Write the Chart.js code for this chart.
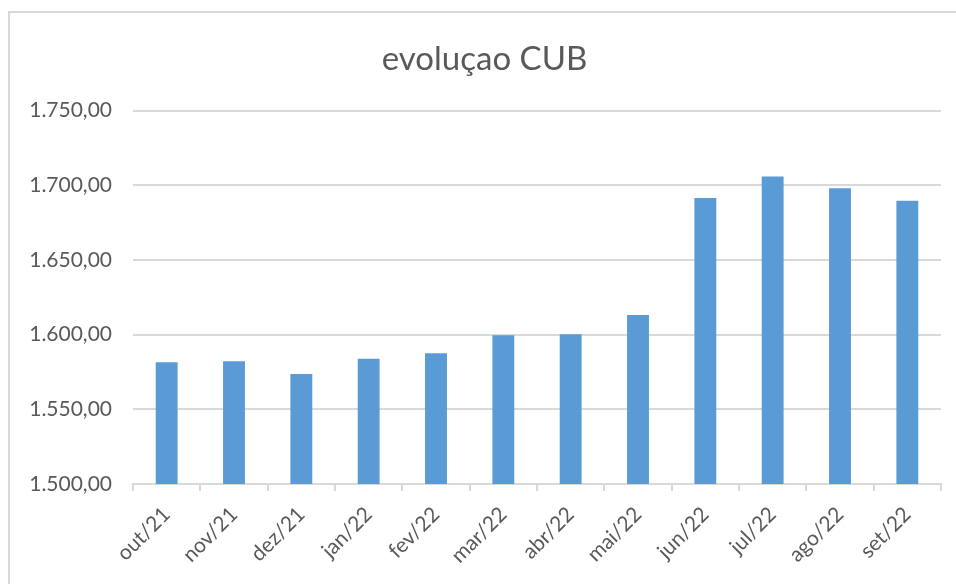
<!DOCTYPE html>
<html>
<head>
<meta charset="utf-8">
<script src="https://cdn.jsdelivr.net/npm/chart.js@4/dist/chart.umd.min.js"></script>
<style>
  html, body { margin: 0; padding: 0; background: #fff; overflow: hidden; }
  #wrap { position: relative; width: 956px; height: 584px; }
  #moldura { position: absolute; left: 8px; top: 11px; width: 1000px; height: 700px;
             border: 2px solid #d9d9d9; pointer-events: none; }
</style>
</head>
<body>
<div id="wrap">
  <canvas id="graficoCub" width="956" height="584"></canvas>
  <div id="moldura"></div>
</div>
<script>
const meses = ['out/21', 'nov/21', 'dez/21', 'jan/22', 'fev/22', 'mar/22',
               'abr/22', 'mai/22', 'jun/22', 'jul/22', 'ago/22', 'set/22'];
const valoresCub = [1581.5, 1582.2, 1573.7, 1583.9, 1587.5, 1599.6,
                    1600.3, 1613.2, 1691.4, 1705.8, 1698.0, 1689.6];
const eixoY = { min: 1500, max: 1750, passo: 50 };

function formatarBR(v) {
    const partes = v.toFixed(2).split('.');
    const inteiro = partes[0].replace(/\B(?=(\d{3})+(?!\d))/g, '.');
    return inteiro + ',' + partes[1];
}

const ctx = document.getElementById('graficoCub').getContext('2d');
new Chart(ctx, {
    type: 'bar',
    data: {
        labels: meses,
        datasets: [{
            data: valoresCub,
            backgroundColor: '#5b9bd5',
            borderWidth: 0,
            barPercentage: 0.65,
            categoryPercentage: 0.5
        }]
    },
    options: {
        responsive: false,
        animation: false,
        layout: { padding: { top: 20, right: 15, bottom: 0, left: 28 } },
        plugins: {
            legend: { display: false },
            tooltip: { enabled: false },
            title: {
                display: true,
                text: 'evoluçao CUB',
                color: '#595959',
                font: { family: 'Lato', size: 33, weight: 'normal' },
                padding: { top: 20, bottom: 31 }
            }
        },
        scales: {
            x: {
                grid: {
                    offset: true,
                    drawOnChartArea: false,
                    drawTicks: true,
                    tickLength: 7,
                    color: '#d9d9d9',
                    lineWidth: 2
                },
                border: { color: '#d9d9d9', width: 2 },
                ticks: {
                    color: '#595959',
                    font: { family: 'Lato', size: 21 },
                    minRotation: 45,
                    maxRotation: 45,
                    padding: 11
                },
                afterFit: (escala) => { escala.height = 100; }
            },
            y: {
                min: eixoY.min,
                max: eixoY.max,
                grid: { color: '#d9d9d9', lineWidth: 2, drawTicks: false },
                border: { display: false },
                ticks: {
                    stepSize: eixoY.passo,
                    color: '#595959',
                    font: { family: 'Lato', size: 21 },
                    padding: 21,
                    callback: (v) => formatarBR(v)
                },
                afterFit: (escala) => { escala.width = 105; }
            }
        }
    }
});
</script>
</body>
</html>
